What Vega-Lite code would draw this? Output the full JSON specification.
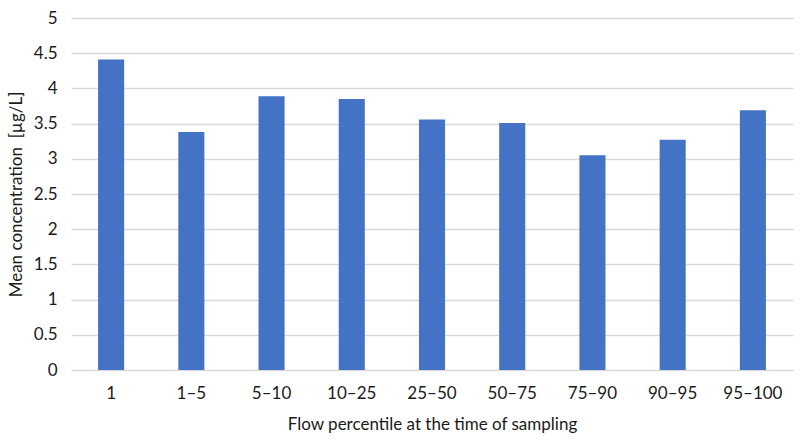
{
  "$schema": "https://vega.github.io/schema/vega-lite/v6.json",
  "width": 722,
  "height": 352,
  "autosize": {"type": "none"},
  "padding": {"left": 71, "top": 18, "right": 7, "bottom": 77},
  "background": "white",
  "data": {
    "values": [
      {"flow": "1", "conc": 4.41},
      {"flow": "1–5", "conc": 3.38},
      {"flow": "5–10", "conc": 3.89},
      {"flow": "10–25", "conc": 3.85},
      {"flow": "25–50", "conc": 3.56},
      {"flow": "50–75", "conc": 3.51},
      {"flow": "75–90", "conc": 3.05},
      {"flow": "90–95", "conc": 3.27},
      {"flow": "95–100", "conc": 3.69}
    ]
  },
  "mark": {"type": "bar", "color": "#4472C4"},
  "encoding": {
    "x": {
      "field": "flow",
      "type": "nominal",
      "sort": null,
      "title": "Flow percentile at the time of sampling",
      "scale": {"paddingInner": 0.675, "paddingOuter": 0.3375},
      "axis": {
        "labelAngle": 0,
        "ticks": false,
        "domain": false,
        "labelPadding": 15,
        "titlePadding": 15
      }
    },
    "y": {
      "field": "conc",
      "type": "quantitative",
      "title": "Mean concentration \u00a0[µg/L]",
      "scale": {"domain": [0, 5]},
      "axis": {
        "values": [0, 0.5, 1, 1.5, 2, 2.5, 3, 3.5, 4, 4.5, 5],
        "format": "~g",
        "ticks": false,
        "domain": false,
        "labelPadding": 14,
        "titlePadding": 8,
        "grid": true
      }
    }
  },
  "config": {
    "view": {"stroke": null},
    "axis": {
      "labelFont": "Lato",
      "titleFont": "Lato",
      "labelFontSize": 17,
      "titleFontSize": 17,
      "titleFontWeight": "normal",
      "labelColor": "#1a1a1a",
      "titleColor": "#1a1a1a",
      "gridColor": "#d9d9d9",
      "gridWidth": 1.5
    }
  }
}
